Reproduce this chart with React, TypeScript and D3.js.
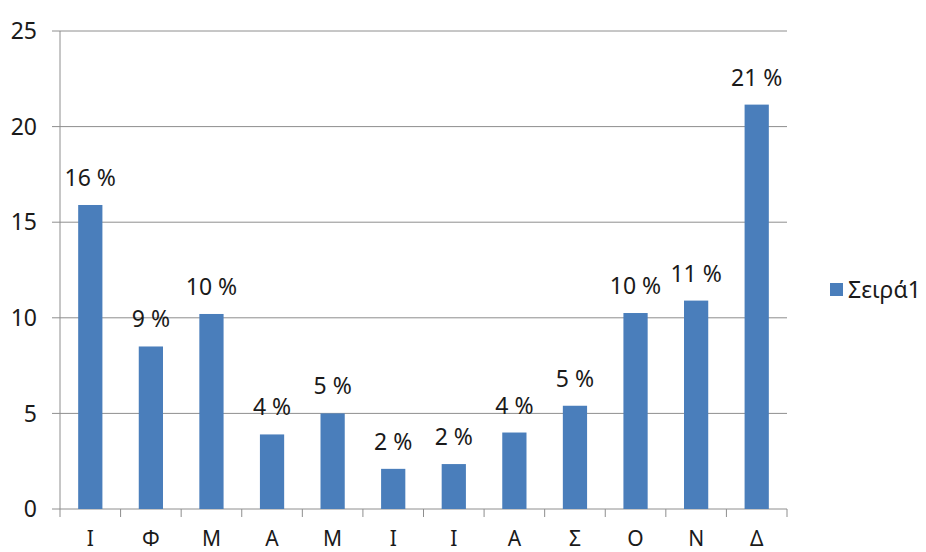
import React, { useRef, useEffect } from 'react';
import * as d3 from 'd3';

const months = ['Ι', 'Φ', 'Μ', 'Α', 'Μ', 'Ι', 'Ι', 'Α', 'Σ', 'Ο', 'Ν', 'Δ'];
const values = [15.9, 8.5, 10.2, 3.9, 5.0, 2.1, 2.35, 4.0, 5.4, 10.25, 10.9, 21.15];
const yTicks = [0, 5, 10, 15, 20, 25];
const seriesName = 'Σειρά1';

const width = 926;
const height = 552;
const font = '"Noto Sans", "DejaVu Sans", sans-serif';

export default function App() {
    const ref = useRef<SVGSVGElement>(null);

    useEffect(() => {
        const svg = d3.select(ref.current);
        svg.selectAll('*').remove();

        const left = 60;
        const right = 787;
        const top = 31;
        const bottom = 509;

        const x = d3
            .scaleBand()
            .domain(months.map((m, i) => String(i)))
            .range([left, right])
            .paddingInner(0.6)
            .paddingOuter(0.3);
        const y = d3.scaleLinear().domain([0, 25]).range([bottom, top]);
        const step = (right - left) / months.length;
        const fmt = d3.format('.0f');

        // gridlines
        svg.append('g')
            .selectAll('line')
            .data(yTicks)
            .enter()
            .append('line')
            .attr('x1', left - 8)
            .attr('x2', right)
            .attr('y1', d => y(d))
            .attr('y2', d => y(d))
            .attr('stroke', '#8e8e8e')
            .attr('stroke-width', 1);

        // axes lines
        svg.append('line')
            .attr('x1', left)
            .attr('x2', left)
            .attr('y1', top)
            .attr('y2', bottom)
            .attr('stroke', '#8e8e8e');

        svg.append('g')
            .selectAll('line')
            .data(d3.range(months.length + 1))
            .enter()
            .append('line')
            .attr('x1', d => left + d * step)
            .attr('x2', d => left + d * step)
            .attr('y1', bottom)
            .attr('y2', bottom + 8)
            .attr('stroke', '#8e8e8e');

        // y labels
        svg.append('g')
            .selectAll('text')
            .data(yTicks)
            .enter()
            .append('text')
            .attr('x', 37)
            .attr('y', d => y(d))
            .attr('dy', '0.36em')
            .attr('text-anchor', 'end')
            .attr('font-family', font)
            .attr('font-size', 23)
            .attr('fill', '#1a1a1a')
            .text(d => d);

        // bars
        svg.append('g')
            .selectAll('rect')
            .data(values)
            .enter()
            .append('rect')
            .attr('x', (d, i) => x(String(i)) as number)
            .attr('width', x.bandwidth())
            .attr('y', d => y(d))
            .attr('height', d => bottom - y(d))
            .attr('fill', '#4a7ebb');

        // value labels
        svg.append('g')
            .selectAll('text')
            .data(values)
            .enter()
            .append('text')
            .attr('x', (d, i) => (x(String(i)) as number) + x.bandwidth() / 2)
            .attr('y', d => y(d) - 19)
            .attr('text-anchor', 'middle')
            .attr('font-family', font)
            .attr('font-size', 23)
            .attr('fill', '#1a1a1a')
            .text(d => fmt(d) + ' %');

        // category labels, pushed down to the bottom edge
        svg.append('g')
            .selectAll('text')
            .data(months)
            .enter()
            .append('text')
            .attr('x', (d, i) => (x(String(i)) as number) + x.bandwidth() / 2)
            .attr('y', 546)
            .attr('text-anchor', 'middle')
            .attr('font-family', font)
            .attr('font-size', 21)
            .attr('fill', '#1a1a1a')
            .text(d => d);

        // legend
        svg.append('rect')
            .attr('x', 830)
            .attr('y', 283)
            .attr('width', 13)
            .attr('height', 13)
            .attr('fill', '#4a7ebb');
        svg.append('text')
            .attr('x', 848)
            .attr('y', 290)
            .attr('dy', '0.36em')
            .attr('font-family', font)
            .attr('font-size', 23)
            .attr('fill', '#1a1a1a')
            .text(seriesName);
    }, []);

    return (
        <div style={{ position: 'absolute', left: 0, top: 0 }}>
            <svg ref={ref} width={width} height={height} style={{ display: 'block', background: '#fff' }} />
        </div>
    );
}
